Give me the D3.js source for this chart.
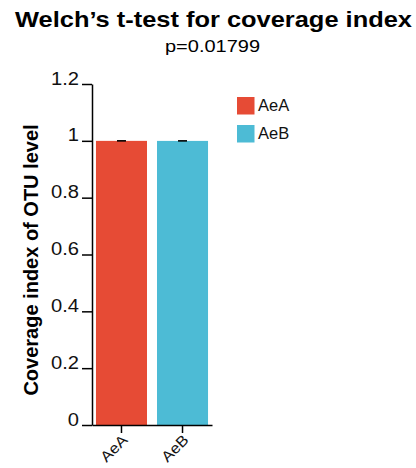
<!DOCTYPE html>
<html>
<head>
<meta charset="utf-8">
<script src="https://cdn.jsdelivr.net/npm/d3@7"></script>
<style>
  html, body { margin: 0; padding: 0; background: #fff; }
  svg { display: block; font-family: "Liberation Sans", Arial, Helvetica, sans-serif; }
</style>
</head>
<body>
<svg id="chart" width="416" height="468"></svg>
<script>
// Groups and their coverage index (mean with standard deviation)
const groups = ["AeA", "AeB"];
const means = [0.99985, 0.99975];
const sds = [0.00008, 0.0001];
const colors = ["#E64B35", "#4DBBD5"];
const yTicks = [0, 0.2, 0.4, 0.6, 0.8, 1, 1.2];
const titleText = "Welch\u2019s t-test for coverage index";
const subtitleText = "p=0.01799";
const yLabel = "Coverage index of OTU level";

const svg = d3.select("#chart");

const x = d3.scaleBand()
  .domain(groups)
  .range([92, 212])
  .paddingInner(0.164)
  .paddingOuter(0.065);

const y = d3.scaleLinear()
  .domain([0, 1.2])
  .range([425, 84]);

const color = d3.scaleOrdinal().domain(groups).range(colors);

// Slightly widen a text's glyphs horizontally
function widen(sel, k) {
  sel.each(function () {
    const w = this.getComputedTextLength();
    d3.select(this).attr("textLength", w * k).attr("lengthAdjust", "spacingAndGlyphs");
  });
}

// Title and p-value
svg.append("text")
  .attr("x", 213.5).attr("y", 27)
  .attr("text-anchor", "middle")
  .attr("font-size", 22).attr("font-weight", "bold")
  .attr("textLength", 397).attr("lengthAdjust", "spacingAndGlyphs")
  .text(titleText);

svg.append("text")
  .attr("x", 212.5).attr("y", 52)
  .attr("text-anchor", "middle")
  .attr("font-size", 17)
  .attr("textLength", 95).attr("lengthAdjust", "spacingAndGlyphs")
  .text(subtitleText);

// Bars
const data = groups.map((g, i) => ({ g, mean: means[i], sd: sds[i] }));

svg.append("g").selectAll("rect")
  .data(data)
  .join("rect")
  .attr("x", d => x(d.g))
  .attr("width", x.bandwidth())
  .attr("y", d => y(d.mean))
  .attr("height", d => y(0) - y(d.mean))
  .attr("fill", d => color(d.g));

// Error bars
const eb = svg.append("g").attr("stroke", "#000").attr("stroke-width", 1.6);
data.forEach(d => {
  const cx = x(d.g) + x.bandwidth() / 2;
  eb.append("line")
    .attr("x1", cx).attr("x2", cx)
    .attr("y1", y(d.mean - d.sd)).attr("y2", y(d.mean + d.sd));
  eb.append("line")
    .attr("x1", cx - 4.5).attr("x2", cx + 4.5)
    .attr("y1", y(d.mean + d.sd)).attr("y2", y(d.mean + d.sd));
});

// Y axis
const yAxis = svg.append("g")
  .attr("transform", "translate(92,0)")
  .call(d3.axisLeft(y).tickValues(yTicks).tickFormat(d3.format("~g"))
    .tickSize(10).tickSizeOuter(0).tickPadding(3));
yAxis.select(".domain").attr("stroke", "#000").attr("stroke-width", 1.5);
yAxis.selectAll(".tick line").attr("stroke", "#000").attr("stroke-width", 1.5);
yAxis.selectAll(".tick text")
  .attr("dy", "0")
  .attr("font-size", 17.5)
  .attr("font-family", "Liberation Sans, Arial, sans-serif")
  .attr("fill", "#111")
  .call(widen, 1.15);

// X axis
const xAxis = svg.append("g")
  .attr("transform", "translate(0,425)")
  .call(d3.axisBottom(x).tickSize(8).tickSizeOuter(0));
xAxis.select(".domain").attr("stroke", "#000").attr("stroke-width", 1.5);
xAxis.selectAll(".tick line").attr("stroke", "#000").attr("stroke-width", 1.5);
xAxis.selectAll(".tick text")
  .attr("font-size", 15)
  .attr("font-family", "Liberation Sans, Arial, sans-serif")
  .attr("fill", "#111")
  .attr("text-anchor", "end")
  .attr("dy", "0")
  .attr("y", 0)
  .attr("transform", "translate(7,16) rotate(-45)")
  .call(widen, 1.1);

// Y axis title
svg.append("text")
  .attr("transform", "translate(38,260) rotate(-90)")
  .attr("text-anchor", "middle")
  .attr("font-size", 20).attr("font-weight", "bold")
  .text(yLabel);

// Legend
const legend = svg.append("g").selectAll("g")
  .data(groups)
  .join("g")
  .attr("transform", (d, i) => `translate(237,${97 + i * 28})`);
legend.append("rect")
  .attr("width", 17.5).attr("height", 17.5)
  .attr("fill", d => color(d));
legend.append("text")
  .attr("x", 21).attr("y", 13.5)
  .attr("font-size", 16.5)
  .attr("fill", "#111")
  .text(d => d);
</script>
</body>
</html>
